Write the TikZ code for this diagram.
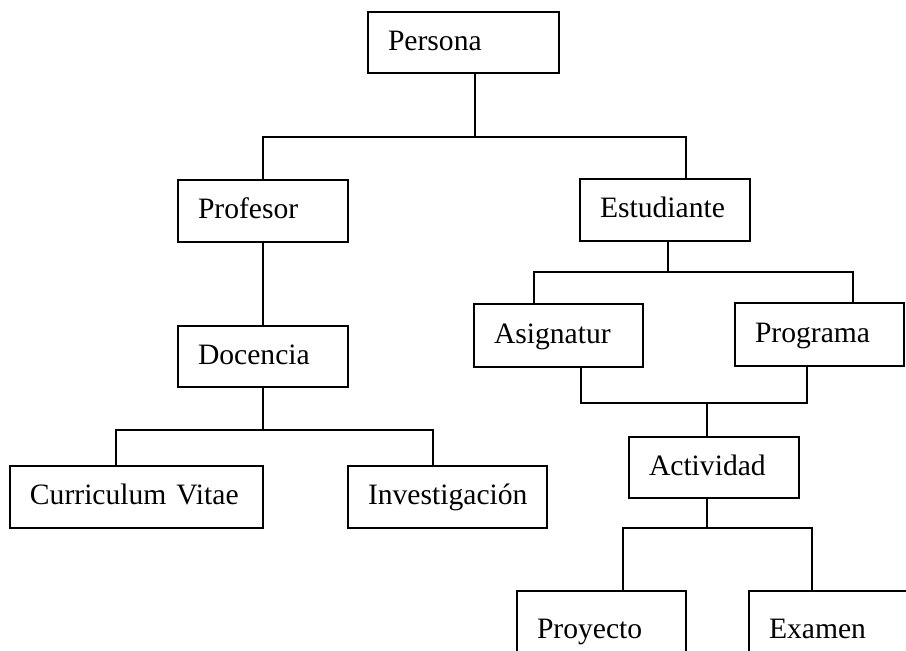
\documentclass[tikz,border=0pt]{standalone}
\usepackage{fontspec}
\setmainfont{Liberation Serif}
\usetikzlibrary{calc}
\begin{document}
\begin{tikzpicture}[x=1pt,y=-1pt,
  box/.style={draw, line width=2.2pt, anchor=north west, inner xsep=20pt,
    inner ysep=0pt, outer sep=0pt, align=left, text height=23pt,
    text depth=7.5pt, font=\fontsize{29.6}{35}\selectfont},
  link/.style={line width=2.2pt}]
\clip (0,0) rectangle (906,651);
\fill[white] (0,0) rectangle (906,651);

% boxes
\node[box, text width=151pt, minimum height=61pt] (persona) at (368,12) {Persona};
\node[box, text width=130pt, minimum height=62pt] (profesor) at (178,180) {Profesor};
\node[box, text width=130pt, minimum height=62pt] (estudiante) at (580,179) {Estudiante};
\node[box, text width=130pt, minimum height=61pt] (docencia) at (178,326) {Docencia};
\node[box, text width=213pt, minimum height=62pt] (curriculum) at (10,466) {Curriculum Vitae};
\node[box, text width=159pt, minimum height=62pt] (investigacion) at (348,466) {Investigación};
\node[box, text width=129pt, minimum height=63pt] (asignatur) at (474,304) {Asignatur};
\node[box, text width=129pt, minimum height=63pt] (programa) at (735,303) {Programa};
\node[box, text width=130pt, minimum height=61pt] (actividad) at (629,437) {Actividad};
\node[box, text width=129pt, minimum height=80pt] (proyecto) at (517,591) {Proyecto};
\node[box, text width=160pt, minimum height=80pt] (examen) at (749,591) {Examen};

% Persona -> Profesor, Estudiante
\draw[link] ($(persona.south west)+(107,0)$) -- ++(0,64) coordinate (busA);
\draw[link] ($(profesor.north west)+(85,0)$) |- (busA)
  -| ($(estudiante.north west)+(106,0)$);

% Profesor -> Docencia
\draw[link] (profesor.south) -- (docencia.north);

% Docencia -> Curriculum Vitae, Investigación
\draw[link] (docencia.south) -- ++(0,43) coordinate (busB);
\draw[link] ($(curriculum.north west)+(106,0)$) |- (busB)
  -| ($(investigacion.north west)+(85,0)$);

% Estudiante -> Asignatur, Programa
\draw[link] ($(estudiante.south west)+(88,0)$) -- ++(0,31) coordinate (busC);
\draw[link] ($(asignatur.north west)+(60,0)$) |- (busC)
  -| ($(programa.north west)+(118,0)$);

% Asignatur, Programa -> Actividad
\draw[link] ($(asignatur.south west)+(107,0)$) |- ($(programa.south west)+(72,37)$)
  -- ($(programa.south west)+(72,0)$);
\draw[link] ($(actividad.north west)+(78,0)$) -- ++(0,-34);

% Actividad -> Proyecto, Examen
\draw[link] ($(actividad.south west)+(78,0)$) -- ++(0,30) coordinate (busD);
\draw[link] ($(proyecto.north west)+(106,0)$) |- (busD)
  -| ($(examen.north west)+(63,0)$);
\end{tikzpicture}
\end{document}
